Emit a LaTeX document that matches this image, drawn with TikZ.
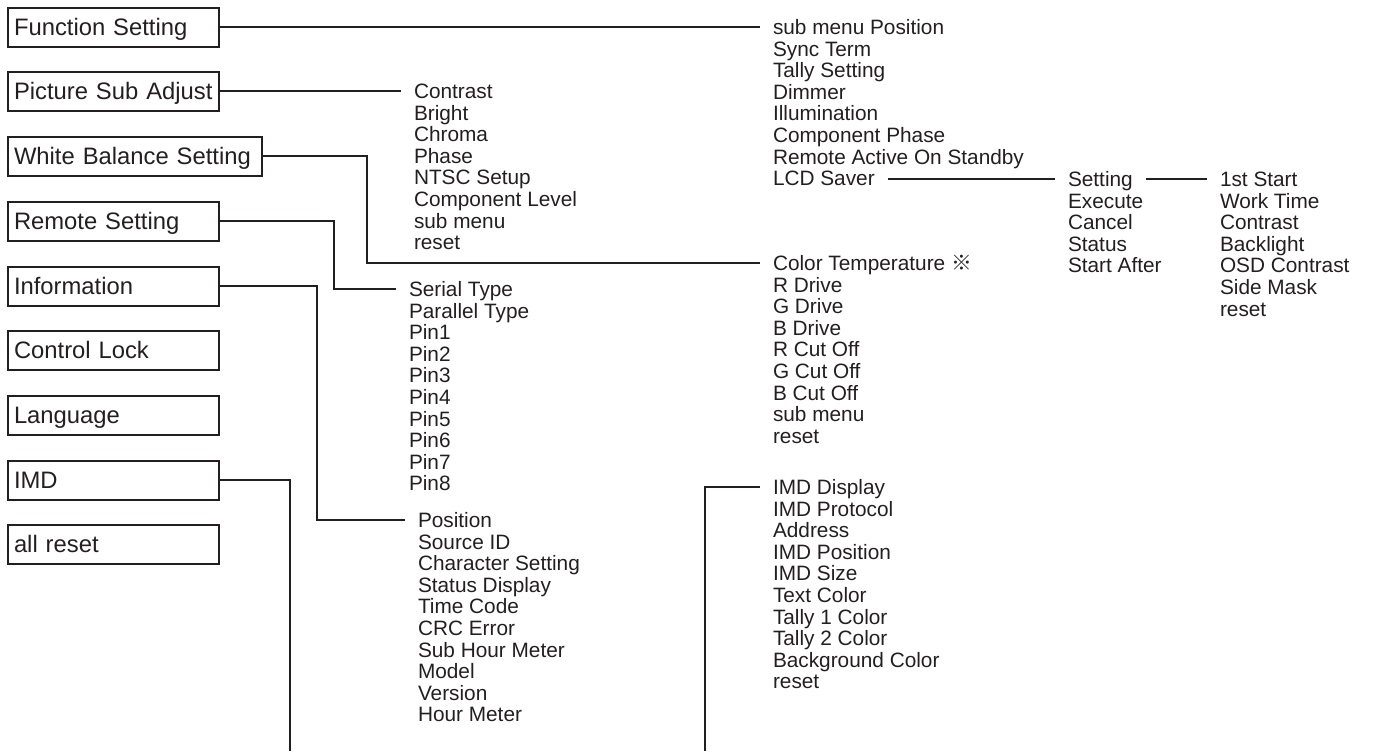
\documentclass[tikz,border=0pt]{standalone}
\usepackage{fontspec}
\setmainfont{Liberation Sans}
\newfontfamily\refmarkfont{Noto Sans CJK JP}
\definecolor{ink}{HTML}{231F20}
\newcommand{\boxfont}{\fontsize{11.9}{14}\selectfont}
\newcommand{\itemfont}{\fontsize{10.4}{12}\selectfont}

\begin{document}
\begin{tikzpicture}[x=0.5pt,y=-0.5pt,line width=1pt,color=ink,
  menubox/.style={draw,anchor=west,inner xsep=3pt,inner ysep=0pt,text width=99.5pt,minimum height=19.5pt,text height=8.5pt,text depth=0pt,align=left,font=\boxfont},
  item/.style={anchor=west,inner sep=0pt,outer xsep=6.5pt,text height=7.4pt,text depth=0pt,font=\itemfont}]
\useasboundingbox (0,0) rectangle (1375,751);
% main menu
\node[menubox] (fs) at (7,27){Function Setting};
\node[menubox] (psa) at (7,91){Picture Sub Adjust};
\node[menubox,text width=121pt] (wb) at (7,156){White Balance Setting};
\node[menubox] (rs) at (7,221){Remote Setting};
\node[menubox] (inf) at (7,286){Information};
\node[menubox] (cl) at (7,350){Control Lock};
\node[menubox] (lang) at (7,415){Language};
\node[menubox] (imd) at (7,480){IMD};
\node[menubox] (ar) at (7,544){all reset};
% sub menus (x is where the connector stops)
\foreach \t [count=\i from 0] in {sub menu Position,Sync Term,Tally Setting,Dimmer,Illumination,Component Phase,Remote Active On Standby,LCD Saver}
  \node[item] (fsm\i) at (760,27+21.6*\i){\t};
\foreach \t [count=\i from 0] in {Contrast,Bright,Chroma,Phase,NTSC Setup,Component Level,sub menu,reset}
  \node[item] (psm\i) at (401,91+21.6*\i){\t};
\foreach \t [count=\i from 0] in {Color Temperature {\refmarkfont ※},R Drive,G Drive,B Drive,R Cut Off,G Cut Off,B Cut Off,sub menu,reset}
  \node[item] (wbm\i) at (760,263+21.6*\i){\t};
\foreach \t [count=\i from 0] in {Serial Type,Parallel Type,Pin1,Pin2,Pin3,Pin4,Pin5,Pin6,Pin7,Pin8}
  \node[item] (rsm\i) at (396,289+21.6*\i){\t};
\foreach \t [count=\i from 0] in {Position,Source ID,Character Setting,Status Display,Time Code,CRC Error,Sub Hour Meter,Model,Version,Hour Meter}
  \node[item] (infm\i) at (405,520+21.6*\i){\t};
\foreach \t [count=\i from 0] in {IMD Display,IMD Protocol,Address,IMD Position,IMD Size,Text Color,Tally 1 Color,Tally 2 Color,Background Color,reset}
  \node[item] (imdm\i) at (760,487+21.6*\i){\t};
\foreach \t [count=\i from 0] in {Setting,Execute,Cancel,Status,Start After}
  \node[item] (lcdm\i) at (1055,179+21.6*\i){\t};
\foreach \t [count=\i from 0] in {1st Start,Work Time,Contrast,Backlight,OSD Contrast,Side Mask,reset}
  \node[item] (setm\i) at (1207,179+21.6*\i){\t};
% connectors
\coordinate (imdcut) at (290,751);\coordinate (imdcont) at (705,751);
\draw (fs.east)--(fs.east -| fsm0.west);
\draw (psa.east)--(psa.east -| psm0.west);
\draw (wb.east)--++(104,0)|-(wbm0.west);
\draw (rs.east)--++(114,0)|-(rsm0.west);
\draw (inf.east)--++(97,0)|-(infm0.west);
\draw (imd.east)-|(imdcut);
\draw (imdcont)|-(imdm0.west);
\draw (fsm7.east |- lcdm0.west)--(lcdm0.west);
\draw (lcdm0.east)--(setm0.west);
\end{tikzpicture}
\end{document}
